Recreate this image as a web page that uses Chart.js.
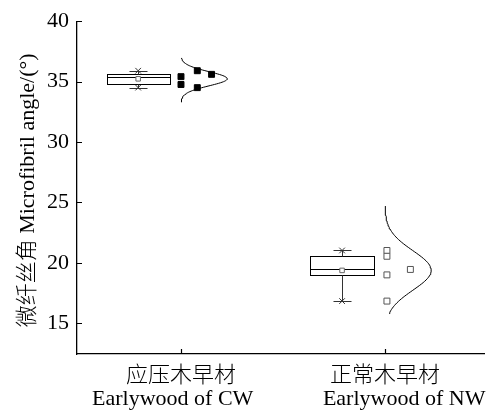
<!DOCTYPE html>
<html><head><meta charset="utf-8">
<title>微纤丝角</title>
<style>
  html, body { margin: 0; padding: 0; background: #fff; }
  #wrap { width: 490px; height: 412px; }
</style>
<script src="https://cdn.jsdelivr.net/npm/chart.js"></script>
</head>
<body>
<div id="wrap"><canvas id="chart" width="490" height="412"></canvas></div>
<script>
// groups on the x axis
const groupPos = [1, 2];
const groupNames = [['应压木早材', 'Earlywood of CW'], ['正常木早材', 'Earlywood of NW']];

// raw points (microfibril angle, degrees) and their sideways jitter
const cwValues = [35.41, 34.76, 35.90, 34.50, 35.60];
const cwJitter = [0, 0, 0.08, 0.08, 0.15];
const nwValues = [21.02, 20.54, 19.00, 16.83, 19.45];
const nwJitter = [0.01, 0.01, 0.01, 0.01, 0.125];

// box statistics
const boxMin = [34.50, 16.83];
const boxQ1 = [34.76, 19.00];
const boxMedian = [35.41, 19.45];
const boxQ3 = [35.60, 20.54];
const boxMax = [35.90, 21.02];
const boxMean = [35.23, 19.37];

// vertical extent of the fitted normal curve
const curveLo = [33.3, 15.8];
const curveHi = [36.96, 24.7];

const yTicks = [15, 20, 25, 30, 35, 40];

// layout (x units)
const boxOffset = -0.21, boxHalf = 0.155, capHalf = 0.043, curvePeak = 0.227;
const FONT = "'Liberation Serif', 'Times New Roman', 'Noto Sans CJK SC', serif";
// the english lines sit a little off-centre in the original
const labelPad = [['', '\u00a0\u00a0\u00a0'], ['\u00a0\u00a0\u00a0\u00a0\u00a0\u00a0\u00a0', '']];

function normalCurve(vals, base, lo, hi) {
  const m = vals.reduce((a, b) => a + b, 0) / vals.length;
  const sd = Math.sqrt(vals.reduce((a, v) => a + (v - m) ** 2, 0) / (vals.length - 1));
  const pts = [];
  for (let i = 0; i <= 80; i++) {
    const y = lo + (hi - lo) * i / 80;
    pts.push({ x: base + curvePeak * Math.exp(-0.5 * ((y - m) / sd) ** 2), y: y });
  }
  return pts;
}

const boxPlugin = {
  id: 'boxes',
  beforeDatasetsDraw(chart) {
    const { ctx, scales: { x, y } } = chart;
    const px = v => Math.round(x.getPixelForValue(v)) + 0.5;
    const py = v => Math.round(y.getPixelForValue(v)) + 0.5;
    ctx.save();
    ctx.lineWidth = 1;
    groupPos.forEach((g, i) => {
      const c = g + boxOffset;
      const l = px(c - boxHalf), r = px(c + boxHalf), cx = px(c);
      const top = py(boxQ3[i]), bot = py(boxQ1[i]);
      ctx.strokeStyle = '#000';
      ctx.strokeRect(l, top, r - l, bot - top);
      ctx.beginPath();
      ctx.moveTo(l, py(boxMedian[i])); ctx.lineTo(r, py(boxMedian[i]));
      ctx.stroke();
      // whiskers and caps
      ctx.strokeStyle = '#333';
      ctx.beginPath();
      ctx.moveTo(cx, top); ctx.lineTo(cx, py(boxMax[i]));
      ctx.moveTo(cx, bot); ctx.lineTo(cx, py(boxMin[i]));
      ctx.moveTo(px(c - capHalf), py(boxMax[i])); ctx.lineTo(px(c + capHalf), py(boxMax[i]));
      ctx.moveTo(px(c - capHalf), py(boxMin[i])); ctx.lineTo(px(c + capHalf), py(boxMin[i]));
      ctx.stroke();
    });
    // inward tick marks
    ctx.strokeStyle = '#000';
    ctx.lineWidth = 1.2;
    ctx.beginPath();
    yTicks.forEach(v => { ctx.moveTo(x.left, py(v)); ctx.lineTo(x.left + 5, py(v)); });
    groupPos.forEach(g => { ctx.moveTo(px(g), y.bottom); ctx.lineTo(px(g), y.bottom - 5); });
    ctx.stroke();
    ctx.restore();
  }
};

new Chart(document.getElementById('chart'), {
  type: 'scatter',
  data: {
    datasets: [
      {
        data: cwValues.map((v, i) => ({ x: groupPos[0] + cwJitter[i], y: v })),
        pointStyle: 'rect', pointRadius: 4.2,
        backgroundColor: '#000', borderColor: '#000', borderWidth: 1
      },
      {
        data: nwValues.map((v, i) => ({ x: groupPos[1] + nwJitter[i], y: v })),
        pointStyle: 'rect', pointRadius: 4.2,
        backgroundColor: '#fff', borderColor: '#555', borderWidth: 1
      },
      {
        data: boxMean.map((v, i) => ({ x: groupPos[i] + boxOffset, y: v })),
        pointStyle: 'rect', pointRadius: 3.2,
        backgroundColor: '#fff', borderColor: '#666', borderWidth: 1
      },
      {
        data: boxMin.concat(boxMax).map((v, i) => ({ x: groupPos[i % 2] + boxOffset, y: v })),
        pointStyle: 'crossRot', pointRadius: 4,
        borderColor: '#333', borderWidth: 1
      },
      {
        data: normalCurve(cwValues, groupPos[0], curveLo[0], curveHi[0]),
        showLine: true, pointRadius: 0, borderColor: '#000', borderWidth: 1, fill: false
      },
      {
        data: normalCurve(nwValues, groupPos[1], curveLo[1], curveHi[1]),
        showLine: true, pointRadius: 0, borderColor: '#000', borderWidth: 1, fill: false
      }
    ]
  },
  options: {
    responsive: false,
    animation: false,
    layout: { padding: { top: 14, right: 0, bottom: 0, left: 0 } },
    plugins: { legend: { display: false }, tooltip: { enabled: false } },
    scales: {
      x: {
        type: 'linear', min: 0.49, max: 2.49,
        afterBuildTicks: s => { s.ticks = groupPos.map(v => ({ value: v })); },
        afterFit: s => { s.height = 58; s.paddingLeft = 0; s.paddingRight = 0; },
        grid: { display: false, drawTicks: false },
        border: { display: true, color: '#000', width: 1.3 },
        ticks: {
          callback: v => {
            const i = groupPos.indexOf(v);
            return [groupNames[i][0], labelPad[i][0] + groupNames[i][1] + labelPad[i][1]];
          },
          font: { family: FONT, size: 22, weight: 300, lineHeight: 1.05 },
          color: '#000', padding: 11, maxRotation: 0, autoSkip: false
        }
      },
      y: {
        min: 12.45, max: 40,
        afterBuildTicks: s => { s.ticks = yTicks.map(v => ({ value: v })); },
        afterFit: s => { s.width = 77; },
        grid: { display: false, drawTicks: false },
        border: { display: true, color: '#000', width: 1.3 },
        ticks: { font: { family: FONT, size: 22 }, color: '#000', padding: 8 },
        title: {
          display: true, text: '微纤丝角 Microfibril angle/(°)\u00a0',
          font: { family: FONT, size: 22, weight: 300 }, color: '#000',
          padding: { top: 15, bottom: 0 }
        }
      }
    }
  },
  plugins: [boxPlugin]
});
</script>
</body></html>
